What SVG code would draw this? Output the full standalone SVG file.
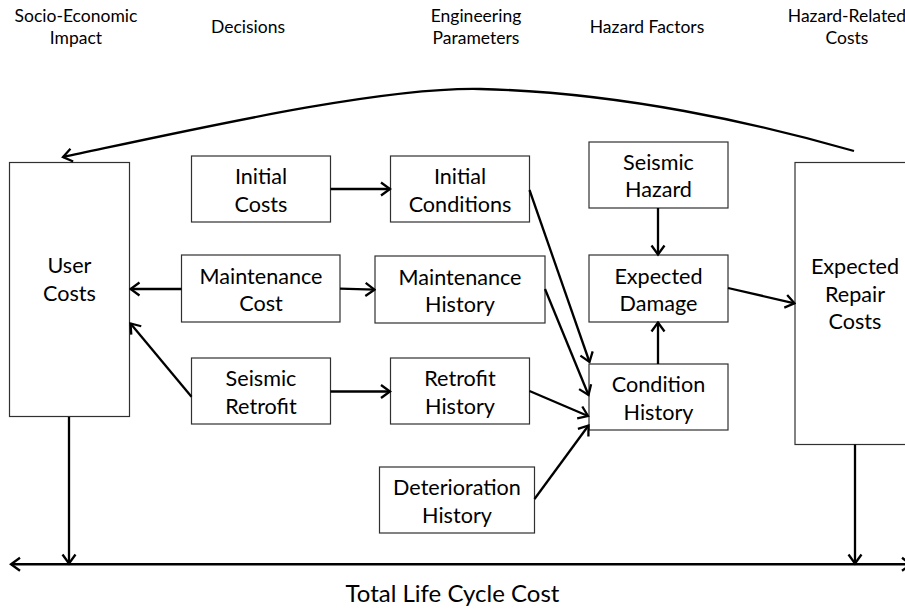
<svg xmlns="http://www.w3.org/2000/svg" width="905" height="610" viewBox="0 0 905 610">
<style>
  .box { fill: #ffffff; stroke: #303030; stroke-width: 1.2; }
  .lbl { font-family: Lato, "Open Sans", "Liberation Sans", sans-serif; font-size: 21.6px; fill: #000; text-anchor: middle; }
  .hdr { font-family: Lato, "Open Sans", "Liberation Sans", sans-serif; font-size: 17.5px; fill: #000; text-anchor: middle; }
  .ttl { font-family: Lato, "Open Sans", "Liberation Sans", sans-serif; font-size: 24px; fill: #000; text-anchor: middle; }
  .conn { fill: none; stroke: #000; stroke-width: 2.3; marker-end: url(#arr); }
</style>
<defs>
  <marker id="arr" viewBox="-12 -8 14 16" refX="0" refY="0" markerWidth="14" markerHeight="16" markerUnits="userSpaceOnUse" orient="auto-start-reverse">
    <path d="M-9,-6.5 L0,0 L-9,6.5" fill="none" stroke="#000" stroke-width="2.3"/>
  </marker>
</defs>
<rect width="905" height="610" fill="#ffffff"/>

<g id="headers">
  <text class="hdr" x="76" y="22">Socio-Economic</text>
  <text class="hdr" x="76" y="44">Impact</text>
  <text class="hdr" x="248" y="33">Decisions</text>
  <text class="hdr" x="476" y="22">Engineering</text>
  <text class="hdr" x="476" y="44">Parameters</text>
  <text class="hdr" x="647" y="33">Hazard Factors</text>
  <text class="hdr" x="847" y="22">Hazard-Related</text>
  <text class="hdr" x="847" y="44">Costs</text>
</g>

<g id="user-costs">
  <rect class="box" x="9.5" y="162.5" width="120" height="254"/>
  <text class="lbl" x="69.5" y="273">User</text>
  <text class="lbl" x="69.5" y="301">Costs</text>
</g>
<g id="initial-costs">
  <rect class="box" x="191.5" y="156" width="139" height="66"/>
  <text class="lbl" x="261" y="184">Initial</text>
  <text class="lbl" x="261" y="211.5">Costs</text>
</g>
<g id="maintenance-cost">
  <rect class="box" x="181.5" y="255" width="158.5" height="67"/>
  <text class="lbl" x="261" y="283.5">Maintenance</text>
  <text class="lbl" x="261" y="311">Cost</text>
</g>
<g id="seismic-retrofit">
  <rect class="box" x="191.5" y="358" width="139" height="66"/>
  <text class="lbl" x="261" y="386">Seismic</text>
  <text class="lbl" x="261" y="413.5">Retrofit</text>
</g>
<g id="initial-conditions">
  <rect class="box" x="390.5" y="156" width="139" height="66"/>
  <text class="lbl" x="460" y="184">Initial</text>
  <text class="lbl" x="460" y="211.5">Conditions</text>
</g>
<g id="maintenance-history">
  <rect class="box" x="375" y="256" width="170" height="67"/>
  <text class="lbl" x="460" y="284.5">Maintenance</text>
  <text class="lbl" x="460" y="312">History</text>
</g>
<g id="retrofit-history">
  <rect class="box" x="390.5" y="358" width="139" height="66"/>
  <text class="lbl" x="460" y="386">Retrofit</text>
  <text class="lbl" x="460" y="413.5">History</text>
</g>
<g id="deterioration-history">
  <rect class="box" x="379.5" y="467" width="155" height="66"/>
  <text class="lbl" x="457" y="495">Deterioration</text>
  <text class="lbl" x="457" y="522.5">History</text>
</g>
<g id="seismic-hazard">
  <rect class="box" x="589" y="142" width="139" height="66"/>
  <text class="lbl" x="658.5" y="170">Seismic</text>
  <text class="lbl" x="658.5" y="197">Hazard</text>
</g>
<g id="expected-damage">
  <rect class="box" x="589" y="255" width="139" height="67"/>
  <text class="lbl" x="658.5" y="283.5">Expected</text>
  <text class="lbl" x="658.5" y="311">Damage</text>
</g>
<g id="condition-history">
  <rect class="box" x="589" y="364" width="139" height="66"/>
  <text class="lbl" x="658.5" y="392">Condition</text>
  <text class="lbl" x="658.5" y="420">History</text>
</g>
<g id="expected-repair-costs">
  <rect class="box" x="795" y="162.5" width="120" height="282"/>
  <text class="lbl" x="855" y="273.5">Expected</text>
  <text class="lbl" x="855" y="301.5">Repair</text>
  <text class="lbl" x="855" y="329">Costs</text>
</g>

<g id="connectors">
  <path class="conn" d="M854,151 C760,124 620,92 480,89 C380,87 200,128 63,157"/>
  <path class="conn" d="M330.5,189 L390,189"/>
  <path class="conn" d="M181.5,289 L130.5,289"/>
  <path class="conn" d="M340,288.7 L374.5,289.7"/>
  <path class="conn" d="M191.5,396.7 L130.5,323.5"/>
  <path class="conn" d="M330.5,391.5 L390,391.5"/>
  <path class="conn" d="M529.5,190 L589.5,362"/>
  <path class="conn" d="M545,289 L588.5,395"/>
  <path class="conn" d="M529.5,391 L588,416"/>
  <path class="conn" d="M534.5,499 L588.5,425.5"/>
  <path class="conn" d="M658,208 L658,254.5"/>
  <path class="conn" d="M658,364 L658,322.5"/>
  <path class="conn" d="M728,288 L794.5,303.3"/>
  <path class="conn" d="M69,417 L69,563.5"/>
  <path class="conn" d="M855,444.5 L855,563.5"/>
  <path class="conn" d="M11,564.3 L911,564.3" marker-start="url(#arr)" style="stroke-width:2.6"/>
</g>

<g id="footer">
  <text class="ttl" x="452.5" y="601.5">Total Life Cycle Cost</text>
</g>
</svg>
